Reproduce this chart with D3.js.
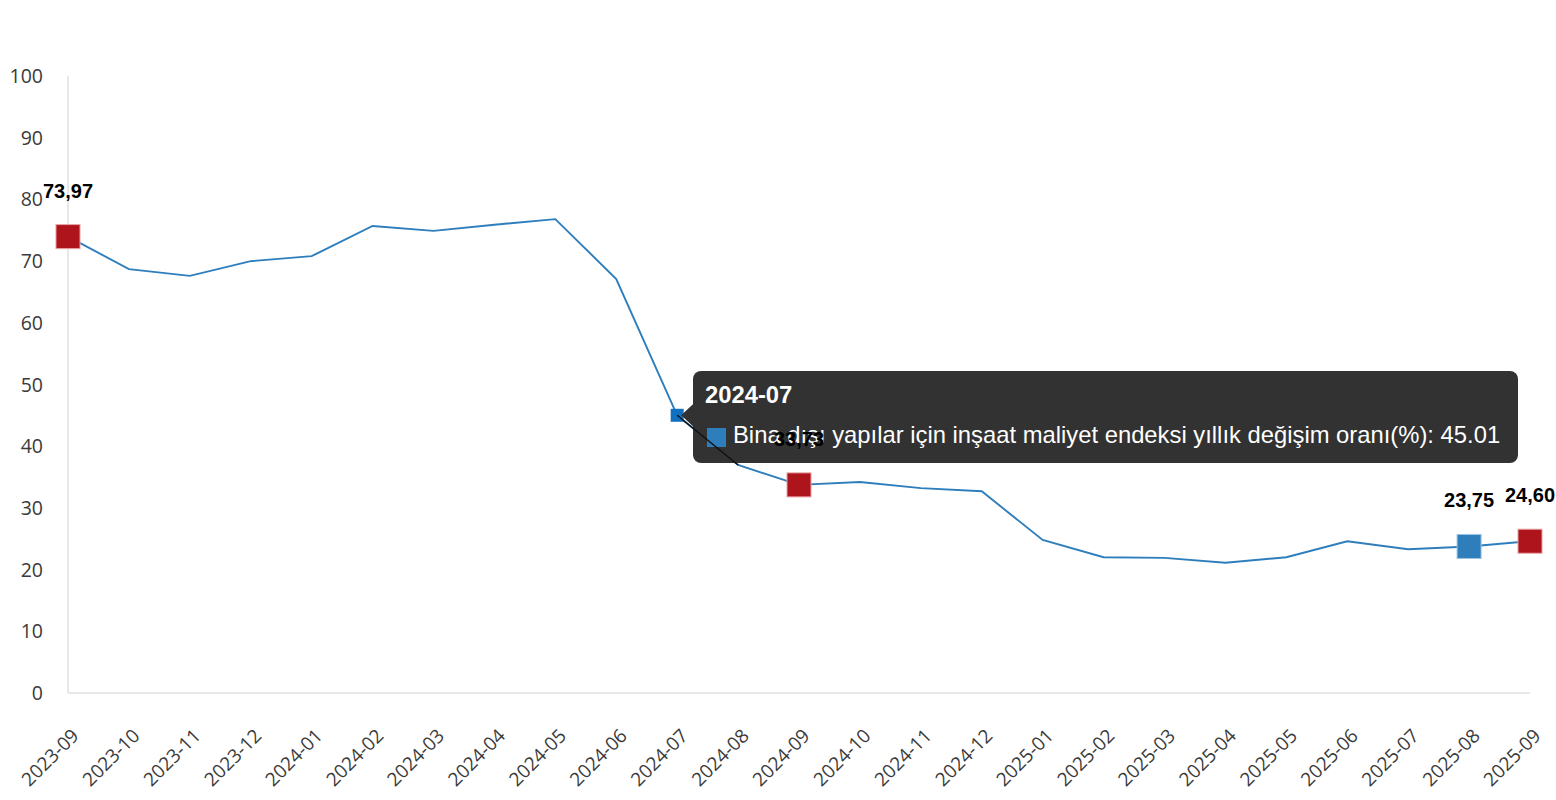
<!DOCTYPE html>
<html><head><meta charset="utf-8">
<script src="https://cdn.jsdelivr.net/npm/d3@7"></script>
<style>body{margin:0;background:#fff}svg{display:block}</style>
</head><body>
<script>
const categories = ["2023-09","2023-10","2023-11","2023-12","2024-01","2024-02","2024-03","2024-04","2024-05","2024-06","2024-07","2024-08","2024-09","2024-10","2024-11","2024-12","2025-01","2025-02","2025-03","2025-04","2025-05","2025-06","2025-07","2025-08","2025-09"];
const values = [73.97,68.7,67.6,70.0,70.8,75.7,74.9,75.9,76.8,67.1,45.01,36.95,33.73,34.2,33.2,32.7,24.8,22.0,21.9,21.1,22.0,24.6,23.3,23.75,24.60];
const yTicks = [0,10,20,30,40,50,60,70,80,90,100];
const redMarks = ["2023-09","2024-09","2025-09"];
const blueMarks = ["2025-08"];
const hoverCat = "2024-07";
const seriesName = "Bina dışı yapılar için inşaat maliyet endeksi yıllık değişim oranı(%)";

const W=1556,H=800;
const svg=d3.select("body").append("svg").attr("width",W).attr("height",H);
const x=d3.scalePoint().domain(categories).range([68,1530]);
const y=d3.scaleLinear().domain([0,100]).range([693,76]);

// axes
svg.append("line").attr("x1",68).attr("x2",68).attr("y1",y(100)).attr("y2",y(0)).attr("stroke","#e0e0e0").attr("stroke-width",1.5);
svg.append("line").attr("x1",68).attr("x2",1530).attr("y1",y(0)).attr("y2",y(0)).attr("stroke","#e0e0e0").attr("stroke-width",1.5);

svg.append("g").selectAll("text").data(yTicks).join("text")
  .attr("x",43).attr("y",d=>y(d)).attr("dy","0.36em").attr("text-anchor","end")
  .attr("font-family","'Open Sans',sans-serif").attr("font-size",19.5).attr("fill","#3a3a3a").text(d=>d);

svg.append("g").selectAll("text").data(categories).join("text")
  .attr("transform",d=>`translate(${x(d)+12},${737}) rotate(-45)`)
  .attr("text-anchor","end")
  .attr("font-family","'Open Sans',sans-serif").attr("font-size",19).attr("fill","#3a3a3a").text(d=>d);

// line
const data=categories.map((c,i)=>({c,v:values[i]}));
svg.append("path").datum(data).attr("fill","none").attr("stroke","#2f7ebc").attr("stroke-width",1.9)
  .attr("d",d3.line().x(d=>x(d.c)).y(d=>y(d.v)));

// markers
const big=24;
svg.append("g").selectAll("rect").data(data.filter(d=>redMarks.includes(d.c))).join("rect")
  .attr("x",d=>x(d.c)-big/2).attr("y",d=>y(d.v)-big/2).attr("width",big).attr("height",big)
  .attr("fill","#ae141b").attr("stroke","#e8a0a3").attr("stroke-width",1);
svg.append("g").selectAll("rect").data(data.filter(d=>blueMarks.includes(d.c))).join("rect")
  .attr("x",d=>x(d.c)-big/2).attr("y",d=>y(d.v)-big/2).attr("width",big).attr("height",big)
  .attr("fill","#2f7ebc").attr("stroke","#9cc3e3").attr("stroke-width",1);
const hv=data.find(d=>d.c===hoverCat);
svg.append("rect").attr("x",x(hv.c)-6.5).attr("y",y(hv.v)-6.5).attr("width",13).attr("height",13).attr("fill","#1170c0");

// tooltip
const tx=693, ty=371, tw=825, th=92;
const tip=svg.append("g");
tip.append("path")
  .attr("d",`M${tx+1},${y(hv.v)-12} L${x(hv.c)+4},${y(hv.v)} L${tx+1},${y(hv.v)+12} Z`)
  .attr("fill","#323232");
tip.append("rect").attr("x",tx).attr("y",ty).attr("width",tw).attr("height",th).attr("rx",8)
  .attr("fill","#323232");
svg.append("line").attr("x1",x(hv.c)).attr("y1",y(hv.v)).attr("x2",x(categories[11])).attr("y2",y(values[11]))
  .attr("stroke","#111").attr("stroke-width",1.5);
tip.append("text").attr("x",tx+12).attr("y",ty+32).attr("font-family","'Liberation Sans',Arial,sans-serif")
  .attr("font-size",23.8).attr("font-weight","bold").attr("fill","#fff").text(hv.c);
tip.append("rect").attr("x",tx+14).attr("y",ty+57).attr("width",19).attr("height",19).attr("fill","#2f7ebc");
tip.append("text").attr("x",tx+40).attr("y",ty+72).attr("font-family","'Liberation Sans',Arial,sans-serif")
  .attr("font-size",23.8).attr("fill","#fff").text(`${seriesName}: ${hv.v.toFixed(2)}`);

// labels
const labelled=data.filter(d=>redMarks.includes(d.c)||blueMarks.includes(d.c));
svg.append("g").selectAll("text").data(labelled).join("text")
  .attr("x",d=>x(d.c)).attr("y",d=>y(d.v)-39).attr("text-anchor","middle")
  .attr("font-family","'Liberation Sans',Arial,sans-serif").attr("font-size",20).attr("font-weight","bold").attr("fill","#000")
  .text(d=>d.v.toFixed(2).replace(".",","));
</script>
</body></html>
